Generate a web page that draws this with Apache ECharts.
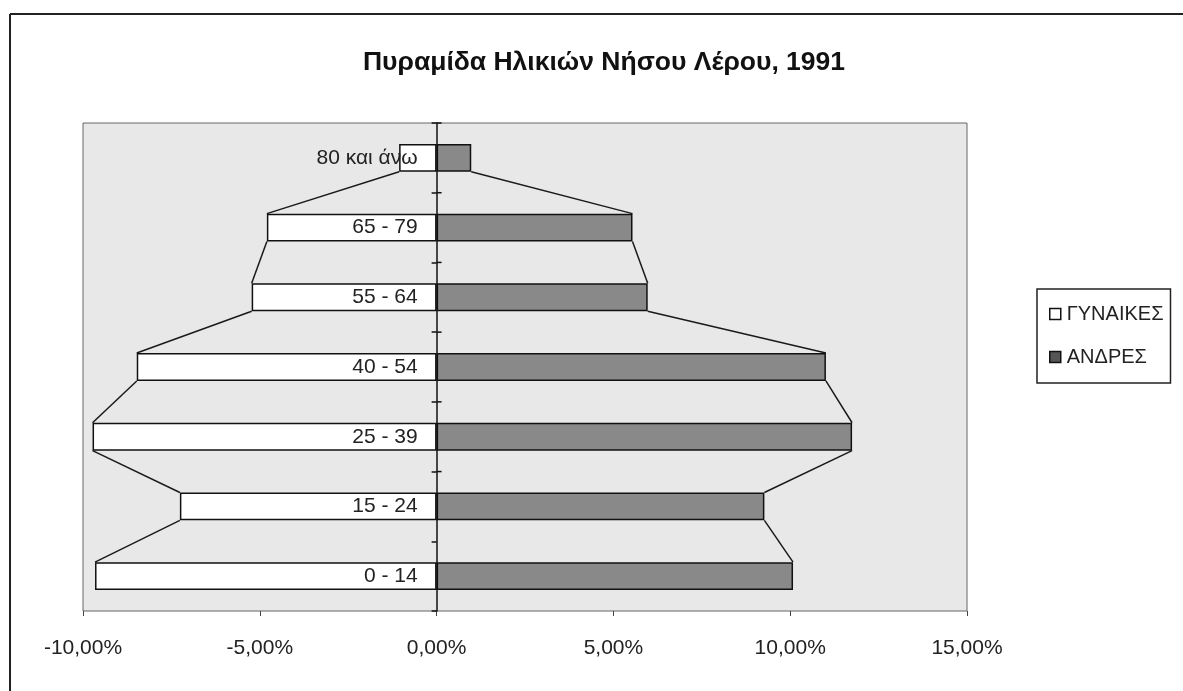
<!DOCTYPE html>
<html>
<head>
<meta charset="utf-8">
<script src="https://cdn.jsdelivr.net/npm/echarts@6/dist/echarts.min.js"></script>
<style>
  html, body { margin: 0; padding: 0; background: #fff; }
  #chart { width: 1183px; height: 691px; }
</style>
</head>
<body>
<div id="chart"></div>
<script>
// Age groups, bottom to top
const categories = ['0 - 14', '15 - 24', '25 - 39', '40 - 54', '55 - 64', '65 - 79', '80 και άνω'];
// Share of total population (%), women drawn to the left as negatives
const women = [-9.66, -7.26, -9.73, -8.48, -5.23, -4.80, -1.06];
const men = [10.08, 9.27, 11.75, 11.01, 5.97, 5.54, 0.98];
const xTicks = { min: -10, max: 15, step: 5 };
const seriesNames = ['ΓΥΝΑΙΚΕΣ', 'ΑΝΔΡΕΣ'];
const titleText = 'Πυραμίδα Ηλικιών Νήσου Λέρου, 1991';

const FONT = '"Liberation Sans", Arial, sans-serif';
const BAR_RATIO = 0.4;
const TICK_LEN = 5;

const GRID = { left: 83, right: 216, top: 123, bottom: 80 };
const plotWidth = 1183 - GRID.left - GRID.right;
// Shift of the category axis from the plot's left edge to the zero line
const zeroShift = plotWidth * (0 - xTicks.min) / (xTicks.max - xTicks.min);

// Connector segments between consecutive bar ends (one per gap)
function connectors(values) {
  const out = [];
  for (let i = 0; i < values.length - 1; i++) out.push([i, values[i], values[i + 1]]);
  return out;
}

function renderConnector(params, api) {
  const i = api.value(0);
  const p1 = api.coord([api.value(1), i]);
  const p2 = api.coord([api.value(2), i + 1]);
  const half = api.size([0, 1])[1] * BAR_RATIO / 2;
  return {
    type: 'line',
    shape: { x1: p1[0], y1: p1[1] - half, x2: p2[0], y2: p2[1] + half },
    style: { stroke: '#1a1a1a', lineWidth: 1.5 }
  };
}

// Inner half of the category ticks, so the marks cross the zero axis
function renderInnerTick(params, api) {
  const p = api.coord([0, api.value(0)]);
  const band = api.size([0, 1])[1];
  const y = p[1] - band / 2;
  return {
    type: 'line',
    shape: { x1: p[0], y1: y, x2: p[0] + TICK_LEN, y2: y },
    style: { stroke: '#111', lineWidth: 1.5 }
  };
}

const chart = echarts.init(document.getElementById('chart'));
chart.setOption({
  animation: false,
  backgroundColor: '#fff',
  graphic: [
    { type: 'line', shape: { x1: 10, y1: 14, x2: 1183, y2: 14 }, style: { stroke: '#222', lineWidth: 2 } },
    { type: 'line', shape: { x1: 10, y1: 14, x2: 10, y2: 691 }, style: { stroke: '#222', lineWidth: 2 } },
    {
      type: 'text', x: 604, y: 63,
      style: {
        text: titleText, font: 'bold 26.5px ' + FONT, fill: '#111',
        textAlign: 'center', textVerticalAlign: 'middle'
      }
    }
  ],
  grid: {
    left: GRID.left, right: GRID.right, top: GRID.top, bottom: GRID.bottom,
    containLabel: false, outerBoundsMode: 'none',
    show: true, backgroundColor: '#e8e8e8', borderColor: '#666', borderWidth: 1
  },
  legend: {
    orient: 'vertical',
    left: 1037, top: 289,
    data: [
      { name: seriesNames[0], itemStyle: { color: '#fff', borderColor: '#111', borderWidth: 1.5 } },
      { name: seriesNames[1], itemStyle: { color: '#555', borderColor: '#111', borderWidth: 1.5 } }
    ],
    icon: 'rect',
    itemWidth: 11, itemHeight: 11, itemGap: 23,
    padding: [15, 7, 16, 12],
    borderColor: '#222', borderWidth: 1.5, backgroundColor: '#fff',
    textStyle: { fontFamily: FONT, fontSize: 20, color: '#222', padding: [0, 0, 0, 1] }
  },
  xAxis: {
    type: 'value',
    min: xTicks.min, max: xTicks.max, interval: xTicks.step,
    axisLine: { onZero: false, lineStyle: { color: '#111', width: 1.5 } },
    axisTick: { show: true, length: 5, lineStyle: { color: '#444' } },
    splitLine: { show: false },
    axisLabel: {
      margin: 27,
      fontFamily: FONT, fontSize: 21, color: '#222',
      formatter: v => v.toFixed(2).replace('.', ',') + '%'
    }
  },
  yAxis: {
    type: 'category',
    data: categories,
    z: 10,
    position: 'left',
    offset: -zeroShift,
    axisLine: { onZero: false, lineStyle: { color: '#111', width: 1.5 } },
    axisTick: { show: true, inside: false, length: TICK_LEN, lineStyle: { color: '#111', width: 1.5 } },
    axisLabel: { margin: 19, fontFamily: FONT, fontSize: 21, color: '#222' },
    splitLine: { show: false }
  },
  series: [
    {
      name: seriesNames[0], type: 'bar', data: women,
      barWidth: (BAR_RATIO * 100) + '%', barGap: '-100%',
      itemStyle: { color: '#fff', borderColor: '#111', borderWidth: 1.5 }
    },
    {
      name: seriesNames[1], type: 'bar', data: men,
      barWidth: (BAR_RATIO * 100) + '%', barGap: '-100%',
      itemStyle: { color: '#898989', borderColor: '#111', borderWidth: 1.5 }
    },
    {
      type: 'custom', renderItem: renderConnector,
      encode: { x: [1, 2], y: 0 }, data: connectors(women), silent: true
    },
    {
      type: 'custom', renderItem: renderConnector,
      encode: { x: [1, 2], y: 0 }, data: connectors(men), silent: true
    },
    {
      type: 'custom', renderItem: renderInnerTick, z: 11,
      encode: { y: 0 }, data: categories.slice(1).map((c, i) => [i + 1]), silent: true
    }
  ]
});
</script>
</body>
</html>
